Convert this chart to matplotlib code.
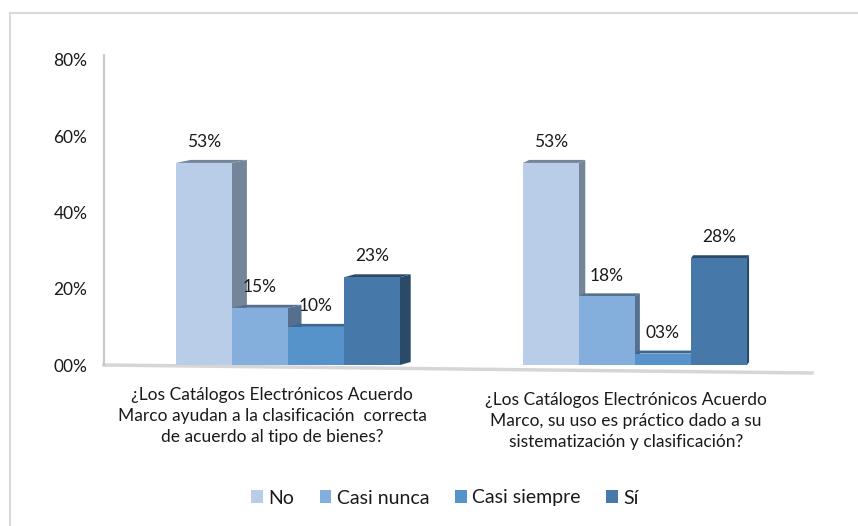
import numpy as np
import matplotlib.pyplot as plt
from matplotlib.patches import Polygon, Patch
from matplotlib.lines import Line2D

# Datos de la encuesta
preguntas = [
    "¿Los Catálogos Electrónicos Acuerdo\nMarco ayudan a la clasificación  correcta\nde acuerdo al tipo de bienes?",
    "¿Los Catálogos Electrónicos Acuerdo\nMarco, su uso es práctico dado a su\nsistematización y clasificación?",
]
respuestas = ["No", "Casi nunca", "Casi siempre", "Sí"]
pregunta1 = [53, 15, 10, 23]
pregunta2 = [53, 18, 3, 28]
ticks_y = [0, 20, 40, 60, 80]

# Colores: cara frontal y cara lateral (efecto 3D)
colores = ["#b9cde8", "#84afdc", "#5593ca", "#4679aa"]
lados = ["#74859a", "#566f8e", "#3d6690", "#2b4a68"]

plt.rcParams['font.family'] = ['Lato', 'DejaVu Sans']
texto = '#1a1a1a'

W, H = 858, 526
fig = plt.figure(figsize=(W / 100, H / 100), dpi=100)

ax = fig.add_axes([104 / W, 1 - 365 / H, (812 - 104) / W, 310 / H])
x_min, x_max = -0.53, 1.51
ax.set_xlim(x_min, x_max)
ax.set_ylim(0, 81.3)
escala = 708 / (x_max - x_min)   # pixeles por unidad en x
px_pct = 310 / 81.3              # pixeles por 1%
ancho = 56 / escala
grosor = 3 / px_pct              # cara superior

grupos = [pregunta1, pregunta2]
for g, valores in enumerate(grupos):
    for i, v in enumerate(valores):
        xl = g + (i - 2) * ancho
        xr = xl + ancho
        xr_px = 104 + (xr - x_min) * escala
        dx = (15 - 0.025 * (xr_px - 230)) / escala
        # cara lateral
        ax.add_patch(Polygon([(xr, 0), (xr + dx, grosor), (xr + dx, v + grosor), (xr, v)],
                             closed=True, facecolor=lados[i], edgecolor='none', zorder=2))
        # cara superior
        ax.add_patch(Polygon([(xl, v), (xl + dx, v + grosor), (xr + dx, v + grosor), (xr, v)],
                             closed=True, facecolor=lados[i], edgecolor='none', zorder=2))
    # caras frontales
    pos = g + (np.arange(len(valores)) - 1.5) * ancho
    ax.bar(pos, valores, width=ancho, color=colores, zorder=3)
    for p, v in zip(pos, valores):
        ax.annotate(f"{v:02d}%", (p, v), xytext=(0, 15), textcoords='offset points',
                    ha='center', va='center', fontsize=12.5, color=texto)

# piso
ax.add_line(Line2D([x_min, x_max], [0, -8 / px_pct], color='#d6d6d6', lw=2.5,
                   clip_on=False, zorder=1))

ax.set_yticks(ticks_y)
ax.set_yticklabels([f"{t:02d}%" for t in ticks_y], fontsize=12.5, color=texto)
ax.tick_params(axis='y', length=0, pad=12)
ax.set_xticks([])
for s in ['top', 'right', 'bottom']:
    ax.spines[s].set_visible(False)
ax.spines['left'].set_color('#c8c8c8')
ax.spines['left'].set_linewidth(1.5)
ax.spines['left'].set_bounds(0, 81.3)

# etiquetas de categoria
fig.text(272 / W, 1 - 387 / H, preguntas[0], ha='center', va='top', fontsize=12.5,
         linespacing=1.38, color=texto)
fig.text(626 / W, 1 - 392 / H, preguntas[1], ha='center', va='top', fontsize=12.5,
         linespacing=1.38, color=texto)

# leyenda
handles = [Patch(facecolor=c, edgecolor='none') for c in colores]
fig.legend(handles, respuestas, loc='center', bbox_to_anchor=(445 / W, 1 - 498 / H), ncol=4,
           frameon=False, fontsize=14, handlelength=0.6, handleheight=0.6,
           handletextpad=0.3, columnspacing=1.3, labelcolor=texto)

# borde del grafico
fig.add_artist(Line2D([10 / W, 1], [1 - 13 / H] * 2, color='#d9d9d9', lw=1.5))
fig.add_artist(Line2D([10 / W] * 2, [1 - 13 / H, 0], color='#d9d9d9', lw=1.5))

fig.savefig('out.png', dpi=100)
